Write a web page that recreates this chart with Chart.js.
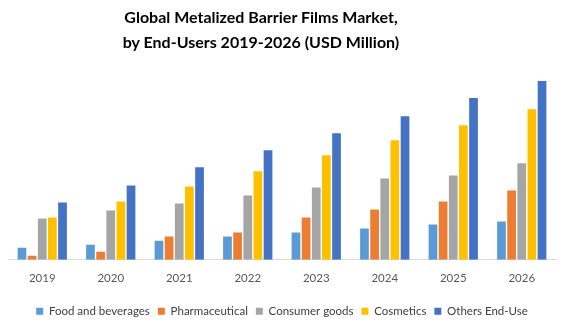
<!DOCTYPE html>
<html>
<head>
<meta charset="utf-8">
<script src="https://cdn.jsdelivr.net/npm/chart.js@4"></script>
<style>
  html, body { margin: 0; padding: 0; background: #fff; }
  #wrap { position: relative; width: 565px; height: 324px; }
  #title {
    position: absolute; left: 0; top: 4px; width: 522px;
    text-align: center; font: bold 16px Lato, sans-serif; line-height: 25px; color: #000;
  }
</style>
</head>
<body>
<div id="wrap">
  <div id="title">Global Metalized Barrier Films Market,<br>by End-Users 2019-2026 (USD Million)</div>
  <canvas id="marketChart"></canvas>
</div>
<script>
// datos (escala relativa, USD Million)
const years = ["2019", "2020", "2021", "2022", "2023", "2024", "2025", "2026"];
const foodBeverages = [12, 15, 19, 23, 27, 31, 35, 38];
const pharmaceutical = [4, 8, 23, 27, 42, 50, 58, 69];
const consumerGoods = [41, 49, 56, 64, 72, 81, 84, 96];
const cosmetics = [42, 58, 73, 88, 104, 119, 134, 150];
const othersEndUse = [57, 74, 92, 109, 126, 143, 161, 178];

const font = "Lato, sans-serif";

function serie(label, data, color) {
  return {
    label: label,
    data: data,
    backgroundColor: color,
    borderWidth: 0,
    barPercentage: 0.86,
    categoryPercentage: 0.74
  };
}

const ctx = document.getElementById("marketChart").getContext("2d");
new Chart(ctx, {
  type: "bar",
  data: {
    labels: years,
    datasets: [
      serie("Food and beverages", foodBeverages, "#5B9BD5"),
      serie("Pharmaceutical", pharmaceutical, "#ED7D31"),
      serie("Consumer goods", consumerGoods, "#A5A5A5"),
      serie("Cosmetics", cosmetics, "#FFC000"),
      serie("Others End-Use", othersEndUse, "#4472C4")
    ]
  },
  options: {
    responsive: true,
    maintainAspectRatio: false,
    animation: false,
    layout: { padding: { left: 8, right: 9, top: 75, bottom: -3 } },
    plugins: {
      title: { display: false },
      legend: {
        position: "bottom",
        labels: {
          color: "#404040",
          font: { family: font, size: 11.5 },
          boxWidth: 7,
          boxHeight: 7,
          padding: 8
        }
      },
      tooltip: { enabled: false }
    },
    scales: {
      y: {
        display: false,
        beginAtZero: true,
        max: 184
      },
      x: {
        grid: { display: false, drawTicks: false },
        border: { color: "#D9D9D9", width: 1 },
        ticks: {
          color: "#595959",
          font: { family: font, size: 11.5 },
          padding: 12
        }
      }
    }
  }
});
</script>
</body>
</html>
